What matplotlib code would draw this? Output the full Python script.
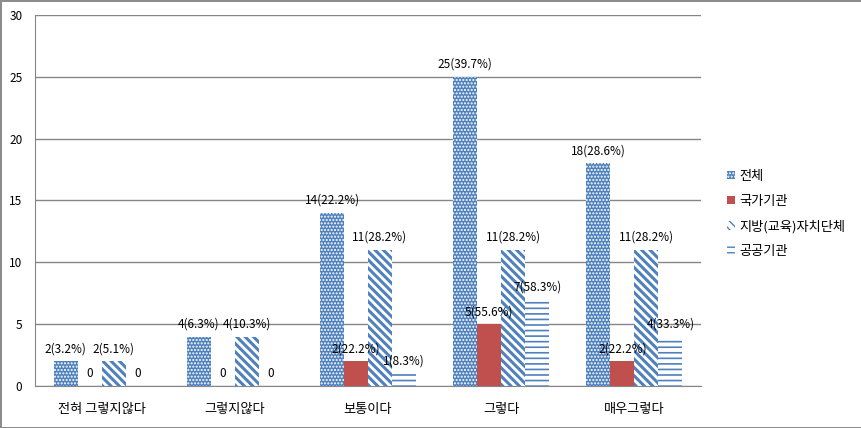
import matplotlib
matplotlib.use('Agg')
import matplotlib.pyplot as plt
import numpy as np

plt.rcParams['font.family'] = ['Noto Sans CJK KR', 'DejaVu Sans']

# data
categories = ['전혀 그렇지않다', '그렇지않다', '보통이다', '그렇다', '매우그렇다']
series_names = ['전체', '국가기관', '지방(교육)자치단체', '공공기관']
total = [2, 4, 14, 25, 18]
national = [0, 0, 2, 5, 2]
local = [2, 4, 11, 11, 11]
public = [0, 0, 1, 7, 4]
total_lbl = ['2(3.2%)', '4(6.3%)', '14(22.2%)', '25(39.7%)', '18(28.6%)']
national_lbl = ['0', '0', '2(22.2%)', '5(55.6%)', '2(22.2%)']
local_lbl = ['2(5.1%)', '4(10.3%)', '11(28.2%)', '11(28.2%)', '11(28.2%)']
public_lbl = ['0', '0', '1(8.3%)', '7(58.3%)', '4(33.3%)']

blue = '#4F81BD'
red = '#C0504D'

fig = plt.figure(figsize=(8.62, 4.28), dpi=100)
fig.patch.set_edgecolor('#8c8c8c')
fig.patch.set_linewidth(2)
ax = fig.add_axes([0.0406, 0.0981, 0.7726, 0.867])

x = np.arange(len(categories))
w = 0.18

bars = []
with plt.rc_context({'hatch.linewidth': 1.0}):
    b = ax.bar(x - 1.5 * w, total, w, color=blue, edgecolor='white',
               hatch='.....', linewidth=0, label=series_names[0], zorder=3)
    bars.append(b)
b = ax.bar(x - 0.5 * w, national, w, color=red, linewidth=0,
           label=series_names[1], zorder=3)
bars.append(b)
with plt.rc_context({'hatch.linewidth': 2.2}):
    b = ax.bar(x + 0.5 * w, local, w, color='white', edgecolor=blue,
               hatch='\\\\\\\\', linewidth=0, label=series_names[2], zorder=3)
    bars.append(b)
with plt.rc_context({'hatch.linewidth': 1.2}):
    b = ax.bar(x + 1.5 * w, public, w, color='white', edgecolor=blue,
               hatch='---', linewidth=0, label=series_names[3], zorder=3)
    bars.append(b)

all_lbls = [total_lbl, national_lbl, local_lbl, public_lbl]
all_vals = [total, national, local, public]
for k, (vals, lbls) in enumerate(zip(all_vals, all_lbls)):
    for i in range(len(categories)):
        ax.annotate(lbls[i], (x[i] + (k - 1.5) * w, vals[i]),
                    xytext=(0, 9), textcoords='offset points',
                    ha='center', va='center', fontsize=8.5, color='black',
                    zorder=5)

ax.set_xlim(-0.5, 4.5)
ax.set_ylim(0, 30)
ax.set_yticks(range(0, 31, 5))
ax.set_xticks(x)
ax.set_xticklabels(categories, fontsize=9.5)
ax.tick_params(axis='y', length=0, pad=9, labelsize=8.5)
ax.tick_params(axis='x', length=0, pad=12)
ax.yaxis.grid(True, color='#868686', linewidth=1)
ax.set_axisbelow(True)
for s in ['top', 'right']:
    ax.spines[s].set_visible(False)
ax.spines['left'].set_color('#868686')
ax.spines['bottom'].set_color('#868686')

fig.legend(handles=bars, labels=series_names, loc='center left',
           bbox_to_anchor=(0.83, 0.5), frameon=False, fontsize=9.5,
           handlelength=0.6, handleheight=0.6, handletextpad=0.3,
           labelspacing=0.9)

fig.savefig('out.png', dpi=100, edgecolor=fig.get_edgecolor())
